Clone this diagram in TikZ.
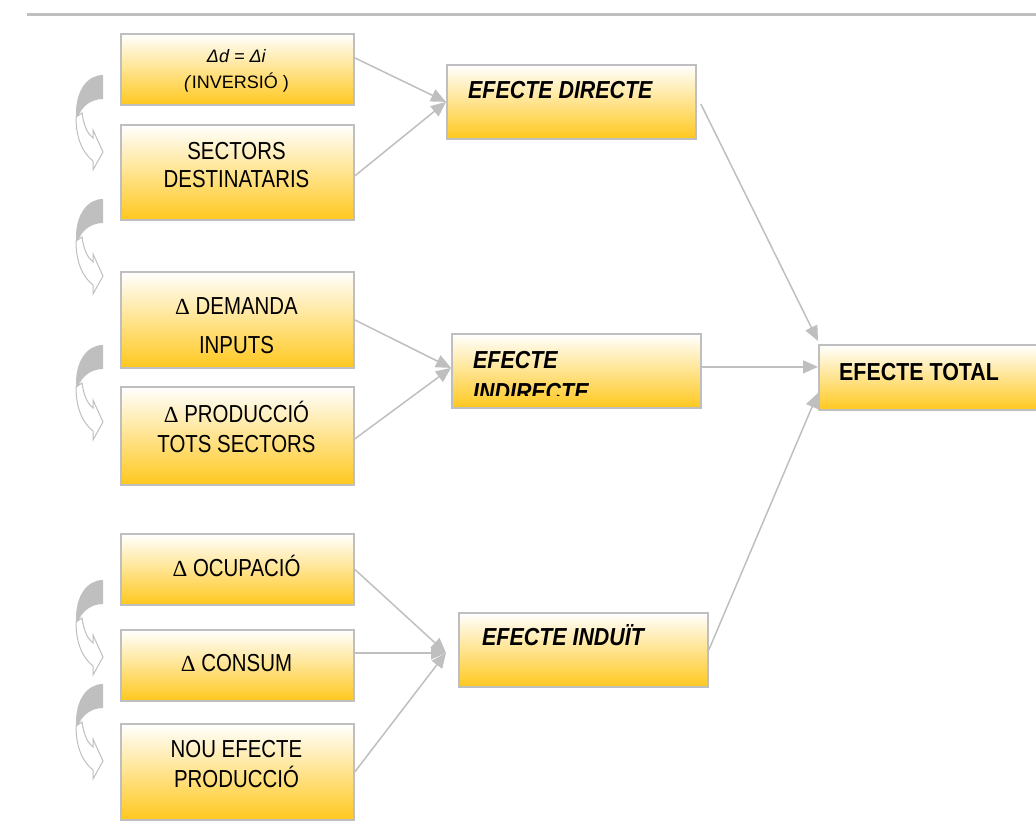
\documentclass[tikz,border=0pt]{standalone}
\usepackage{fontspec}
\setmainfont{Liberation Sans}
\newfontfamily\narfont[FakeStretch=0.83]{Liberation Sans}
\newfontfamily\narbfont[FakeStretch=0.87]{Liberation Sans}
\newfontfamily\dserfont{Liberation Serif}
\usetikzlibrary{arrows.meta,calc}
\definecolor{lg}{RGB}{191,191,191}
\definecolor{gold}{RGB}{255,200,30}
\newcommand\mydelta{{\dserfont\fontsize{23pt}{23pt}\selectfont Δ}}
\tikzset{
  box/.style={draw=lg, line width=1.8pt, top color=white, bottom color=gold,
    inner sep=0pt, anchor=north west},
  lbl/.style={inner sep=0pt, anchor=base, font=\narfont\fontsize{24.6pt}{28pt}\selectfont},
  lblsmall/.style={inner sep=0pt, anchor=base, font=\fontsize{18pt}{20pt}\selectfont},
  efx/.style={inner sep=0pt, anchor=base west, font=\narbfont\fontsize{24.6pt}{28pt}\selectfont\bfseries\itshape},
  efxb/.style={inner sep=0pt, anchor=base west, font=\narbfont\fontsize{24.6pt}{28pt}\selectfont\bfseries},
  conn/.style={draw=lg, line width=1.5pt, -{Triangle[length=15pt,width=13pt]}},
  curv/.pic={
    \fill[lg] (0,0) .. controls (-16,0) and (-27,16) .. (-27,38) -- (-27,50)
      .. controls (-25,34) and (-14,24) .. (0,24) -- cycle;
    \draw[lg, line width=1pt, fill=white] (-27,42) .. controls (-27,64) and (-20,78) .. (-10,86)
      -- (-10,95) -- (0,77) -- (-10,55) -- (-10,63)
      .. controls (-15,59) and (-19,52) .. (-21,38) -- cycle;
  }
}
\begin{document}
\begin{tikzpicture}[x=1pt,y=-1pt]
\useasboundingbox (0,0) rectangle (1036,832);
\draw[lg, line width=3pt] (27,15) -- (1036,15);

% left boxes
\node[box, minimum width=233pt, minimum height=71pt] (b1) at (120,33) {};
\node[box, minimum width=233pt, minimum height=95pt] (b2) at (120,124) {};
\node[box, minimum width=233pt, minimum height=96pt] (b3) at (120,271) {};
\node[box, minimum width=233pt, minimum height=98pt] (b4) at (120,386) {};
\node[box, minimum width=233pt, minimum height=71pt] (b5) at (120,533) {};
\node[box, minimum width=233pt, minimum height=71pt] (b6) at (120,629) {};
\node[box, minimum width=233pt, minimum height=96pt] (b7) at (120,723) {};

% middle and right boxes
\node[box, minimum width=249pt, minimum height=74pt] (dir) at (446,64) {};
\node[box, minimum width=249pt, minimum height=74pt] (ind) at (451,333) {};
\node[box, minimum width=249pt, minimum height=74pt] (indu) at (458,612) {};
\node[box, minimum width=240pt, minimum height=65pt] (tot) at (818,344) {};

% labels
\node[lblsmall] (t1a) at (236.5,63) {\textit{Δd = Δi}};
\node[lblsmall] (t1b) at (236.5,89) {\textit{(}INVERSIÓ )};
\node[lbl] (t2a) at (236.5,160) {SECTORS};
\node[lbl] (t2b) at (236.5,187) {DESTINATARIS};
\node[lbl] (t3a) at (236.5,314) {\mydelta{} DEMANDA};
\node[lbl] (t3b) at (236.5,353) {INPUTS};
\node[lbl] (t4a) at (236.5,422) {\mydelta{} PRODUCCIÓ};
\node[lbl] (t4b) at (236.5,452) {TOTS SECTORS};
\node[lbl] (t5) at (236.5,576) {\mydelta{} OCUPACIÓ};
\node[lbl] (t6) at (236.5,671) {\mydelta{} CONSUM};
\node[lbl] (t7a) at (236.5,757) {NOU EFECTE};
\node[lbl] (t7b) at (236.5,787) {PRODUCCIÓ};

\node[efx] (tdir) at (468,99) {EFECTE DIRECTE};
\node[efx] (tind1) at (473,368) {EFECTE};
\begin{scope}
  \clip (451,333) rectangle (700,395);
  \node[efx] (tind2) at (473,400) {INDIRECTE};
\end{scope}
\node[efx] (tindu) at (482,645) {EFECTE INDUÏT};
\node[efxb] (ttot) at (839,380) {EFECTE TOTAL};

% connectors
\draw[conn] ($(b1.east)+(0,-11.5)$) -- (dir.west);
\draw[conn] ($(b2.east)+(0,3.5)$) -- (dir.west);
\draw[conn] (b3.east) -- ($(ind.west)+(0,-3)$);
\draw[conn] ($(b4.east)+(0,3)$) -- ($(ind.west)+(0,-3)$);
\draw[conn] (b5.east) -- ($(indu.west)+(-12,3)$);
\draw[conn] ($(b6.east)+(0,-12.5)$) -- ($(indu.west)+(-12,3)$);
\draw[conn] (b7.east) -- ($(indu.west)+(-12,3)$);
\draw[conn] ($(dir.east)+(4,2)$) -- ($(tot.north west)+(0,-3)$);
\draw[conn] ($(ind.east)+(0,-4)$) -- ($(tot.west)+(0,-10.5)$);
\draw[conn] (indu.east) -- ($(tot.west)+(0,15.5)$);

% curved arrows
\pic at (103,75) {curv};
\pic at (103,199) {curv};
\pic at (103,345) {curv};
\pic at (103,580) {curv};
\pic at (103,684) {curv};
\end{tikzpicture}
\end{document}
